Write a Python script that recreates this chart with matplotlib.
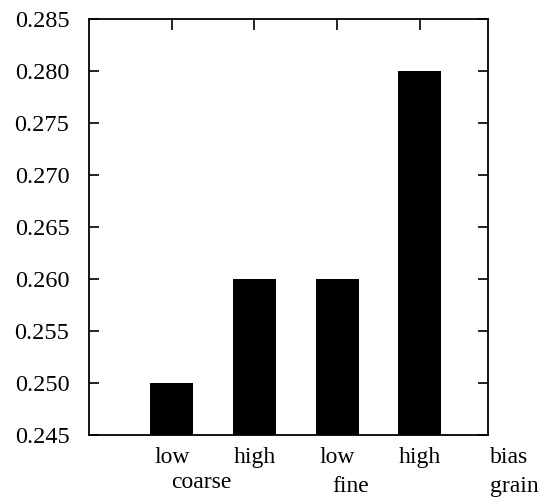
import matplotlib
matplotlib.use("Agg")
import matplotlib.pyplot as plt
from matplotlib.transforms import blended_transform_factory

levels = ["low", "high", "low", "high"]
values = [0.250, 0.260, 0.260, 0.280]
positions = [1, 2, 3, 4]
groups = ["coarse", "fine"]
group_pos = [1.36, 3.16]
axis_names = ["bias", "grain"]

plt.rcParams['font.family'] = ['Liberation Serif', 'DejaVu Serif']

fig = plt.figure(figsize=(5.39, 4.99), dpi=100)
ax = fig.add_axes([0.165, 0.128, 0.740, 0.834])

base = 0.245
ax.bar(positions, [v - base for v in values], bottom=base, width=0.52, color='black')

ax.set_xlim(0, 4.82)
ax.set_ylim(0.245, 0.285)
ax.set_yticks([0.245 + 0.005 * i for i in range(9)])
ax.set_yticklabels([f"{0.245 + 0.005 * i:.3f}" for i in range(9)], fontsize=17.5)
ax.tick_params(axis='y', direction='in', length=7, width=1.2, right=True, pad=14)

ax.set_xticks(positions)
ax.set_xticklabels([])
ax.tick_params(axis='x', direction='in', length=8, width=1.2, top=True, bottom=False)

for sp in ax.spines.values():
    sp.set_linewidth(1.3)

fs = 17
tr = ax.get_xaxis_transform()
tr_fig = blended_transform_factory(ax.transData, fig.transFigure)
tr_fig_ax = blended_transform_factory(ax.transAxes, fig.transFigure)
for p, lab in zip(positions, levels):
    ax.text(p, -0.053, lab, transform=tr, ha='center', va='center', fontsize=fs)
ax.text(group_pos[0], -0.115, groups[0], transform=tr, ha='center', va='center', fontsize=fs)
ax.text(group_pos[1], 0.004, groups[1], transform=tr_fig, ha='center', va='bottom', fontsize=fs)
ax.text(1.005, -0.053, axis_names[0], transform=ax.transAxes, ha='left', va='center', fontsize=fs, clip_on=False)
ax.text(1.005, 0.004, axis_names[1], transform=tr_fig_ax, ha='left', va='bottom', fontsize=fs, clip_on=False)

fig.savefig("out.png", dpi=100)
